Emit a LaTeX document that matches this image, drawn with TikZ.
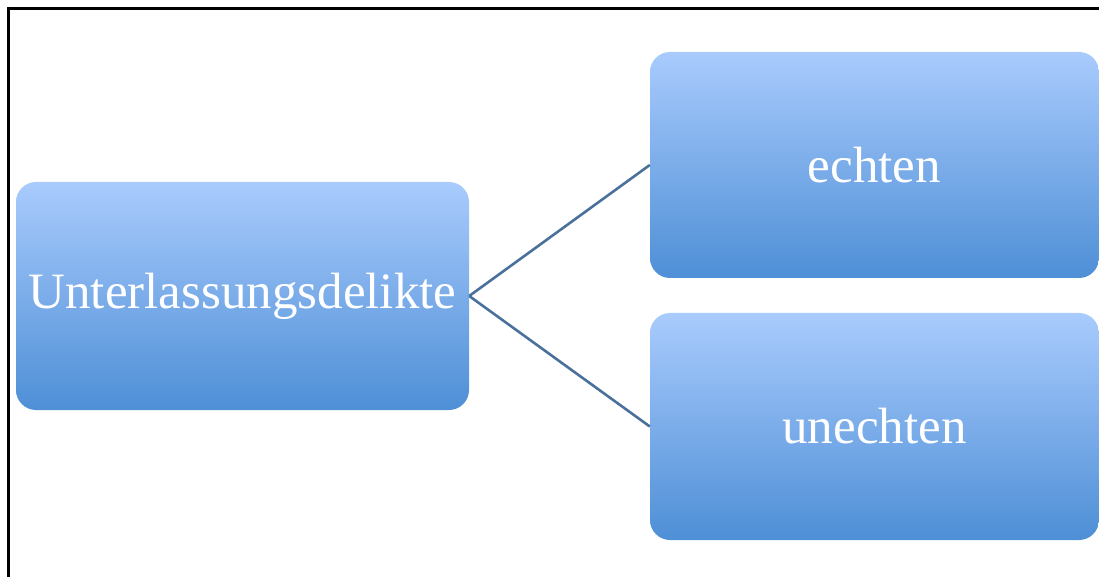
\documentclass[tikz,border=0pt]{standalone}
\usepackage{fontspec}
\setmainfont{Liberation Serif}
\definecolor{boxtop}{HTML}{A9CBFD}
\definecolor{boxbot}{HTML}{4E8FD6}
\definecolor{linkc}{HTML}{4A709C}
\begin{document}
\begin{tikzpicture}[x=1pt,y=1pt,
  blockbox/.style={rectangle,rounded corners=20pt,top color=boxtop,bottom color=boxbot,
    draw=none,text=white,font=\fontsize{51}{55}\selectfont,inner sep=0pt},
  link/.style={draw=linkc,line width=2.6pt}]
\useasboundingbox (0,0) rectangle (1099,576);
\draw[line width=3pt,line cap=rect] (8,-5) -- (8,567) -- (1110,567);
\node[blockbox,minimum width=453pt,minimum height=228pt] (root) at (242.5,280) {Unterlassungsdelikte};
\node[blockbox,minimum width=449pt,minimum height=226pt] (echt) at (874.5,411) {echten};
\node[blockbox,minimum width=449pt,minimum height=227pt] (unecht) at (874.5,149.5) {unechten};
\draw[link] (root.east) -- (echt.west);
\draw[link] (root.east) -- (unecht.west);
\end{tikzpicture}
\end{document}
